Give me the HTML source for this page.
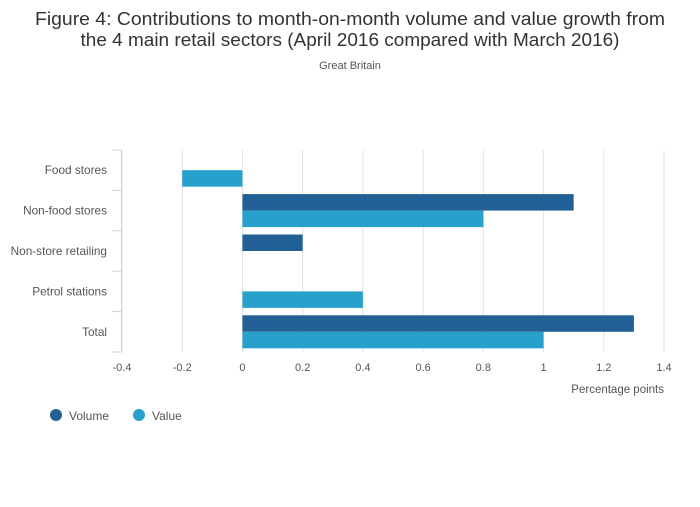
<!DOCTYPE html>
<html><head><meta charset="utf-8"><style>
body{margin:0;background:#fff;font-family:"Liberation Sans",sans-serif;}
</style></head><body>
<svg width="700" height="502" xmlns="http://www.w3.org/2000/svg" style="font-family:'Liberation Sans',sans-serif">
<text x="350" y="25" text-anchor="middle" font-size="18.5" fill="#333" textLength="630" lengthAdjust="spacingAndGlyphs">Figure 4: Contributions to month-on-month volume and value growth from</text>
<text x="350" y="46" text-anchor="middle" font-size="18.5" fill="#333" textLength="539" lengthAdjust="spacingAndGlyphs">the 4 main retail sectors (April 2016 compared with March 2016)</text>
<text x="350" y="69" text-anchor="middle" font-size="11" fill="#555">Great Britain</text>
<g id="grid"></g><g id="bars"></g><g id="axes"></g>
<text x="664" y="393" text-anchor="end" font-size="11.5" fill="#555">Percentage points</text>
<g>
<circle cx="56" cy="415" r="6" fill="#206095"/>
<text x="69" y="420" font-size="12" fill="#555">Volume</text>
<circle cx="139" cy="415" r="6" fill="#27a0cc"/>
<text x="152" y="420" font-size="12" fill="#555">Value</text>
</g>
</svg>
<script>
const categories=["Food stores","Non-food stores","Non-store retailing","Petrol stations","Total"];
const volume=[0,1.1,0.2,0,1.3];
const value=[-0.2,0.8,0,0.4,1.0];
const ticks=[-0.4,-0.2,0,0.2,0.4,0.6,0.8,1,1.2,1.4];
const NS="http://www.w3.org/2000/svg";
const x0=122,x1=664,xmin=-0.4,xmax=1.4,yTop=150,yBot=352;
const xs=v=>x0+(v-xmin)/(xmax-xmin)*(x1-x0);
const band=(yBot-yTop)/categories.length;
function mk(t,a,p){const e=document.createElementNS(NS,t);for(const k in a)e.setAttribute(k,a[k]);p.appendChild(e);return e;}
const grid=document.getElementById('grid'),bars=document.getElementById('bars'),axes=document.getElementById('axes');
ticks.forEach(t=>{
 const g=mk('line',{x1:xs(t),x2:xs(t),y1:yTop,y2:yBot,stroke:'#e2e2e2','stroke-width':1},grid);
 
 
 const l=mk('text',{x:xs(t),y:371,'text-anchor':'middle','font-size':11,fill:'#555'},axes);
 l.textContent=String(t);
 
 
});
const ax=mk('line',{x1:121.5,x2:121.5,y1:yTop,y2:yBot,stroke:'#c8d0e0','stroke-width':1},axes);


for(let i=0;i<=categories.length;i++){
 const y=yTop+i*band;
 const t=mk('line',{x1:112,x2:122,y1:y,y2:y,stroke:'#c8d0e0','stroke-width':1},axes);
 
 
}
categories.forEach((c,i)=>{
 const cy=yTop+band*(i+0.5);
 const l=mk('text',{x:107,y:cy+4,'text-anchor':'end','font-size':11.8,fill:'#555'},axes);
 l.textContent=c;
 
 
 const bh=16.5;
 [[volume[i],'#206095',cy-bh,'bar-volume'],[value[i],'#27a0cc',cy,'bar-value']].forEach(([v,col,y,n])=>{
  if(v===0)return;
  const a=xs(Math.min(0,v)),b=xs(Math.max(0,v));
  const r=mk('rect',{x:a,y:y,width:b-a,height:bh,fill:col},bars);
  
  
 });
});
</script>
</body></html>
